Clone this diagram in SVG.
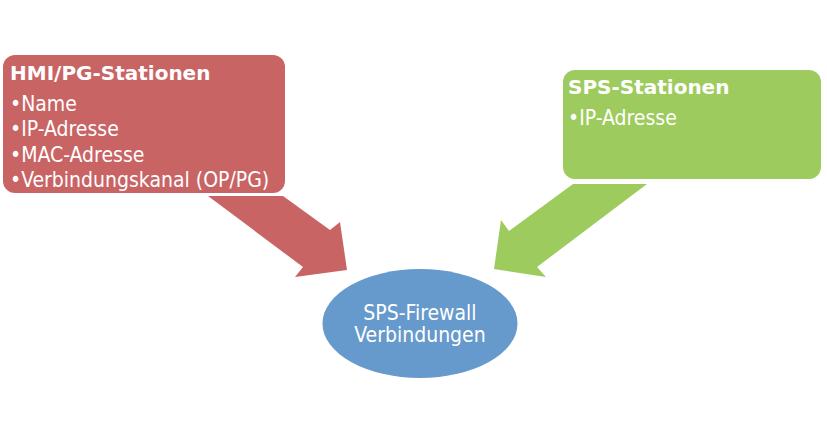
<svg xmlns="http://www.w3.org/2000/svg" width="827" height="435" viewBox="0 0 827 435">
<style>
.t{font-family:'DejaVu Sans Condensed','DejaVu Sans',sans-serif;font-stretch:condensed;fill:#ffffff;font-size:21px}
.h{font-family:'DejaVu Sans','Liberation Sans',sans-serif;font-weight:bold;fill:#ffffff;font-size:20px}
.red{fill:#C96464}
.green{fill:#9ECB5E}
.blue{fill:#6699CC}
</style>
<rect width="827" height="435" fill="#ffffff"/>
<g id="connectors">
<polygon class="red" points="208,196 283,196 330,230 340,222 347,270 295,277 303,267"/>
<polygon class="green" points="573,184 647,184 537,267 546,277 494,269 501,220 509,231"/>
</g>
<g id="hmi-pg-stationen">
<rect class="red" x="3" y="55" width="282" height="138" rx="12" ry="12"/>
<text class="h" x="10" y="80">HMI/PG-Stationen</text>
<text class="t" x="10" y="111">•Name</text>
<text class="t" x="10" y="136">•IP-Adresse</text>
<text class="t" x="10" y="162">•MAC-Adresse</text>
<text class="t" x="10" y="187">•Verbindungskanal (OP/PG)</text>
</g>
<g id="sps-stationen">
<rect class="green" x="563" y="70" width="258" height="109" rx="12" ry="12"/>
<text class="h" x="568" y="94">SPS-Stationen</text>
<text class="t" x="568" y="125">•IP-Adresse</text>
</g>
<g id="sps-firewall">
<ellipse class="blue" cx="420" cy="323.5" rx="97.5" ry="54.5"/>
<text class="t" x="420" y="320" text-anchor="middle">SPS-Firewall</text>
<text class="t" x="420" y="342" text-anchor="middle">Verbindungen</text>
</g>
</svg>
